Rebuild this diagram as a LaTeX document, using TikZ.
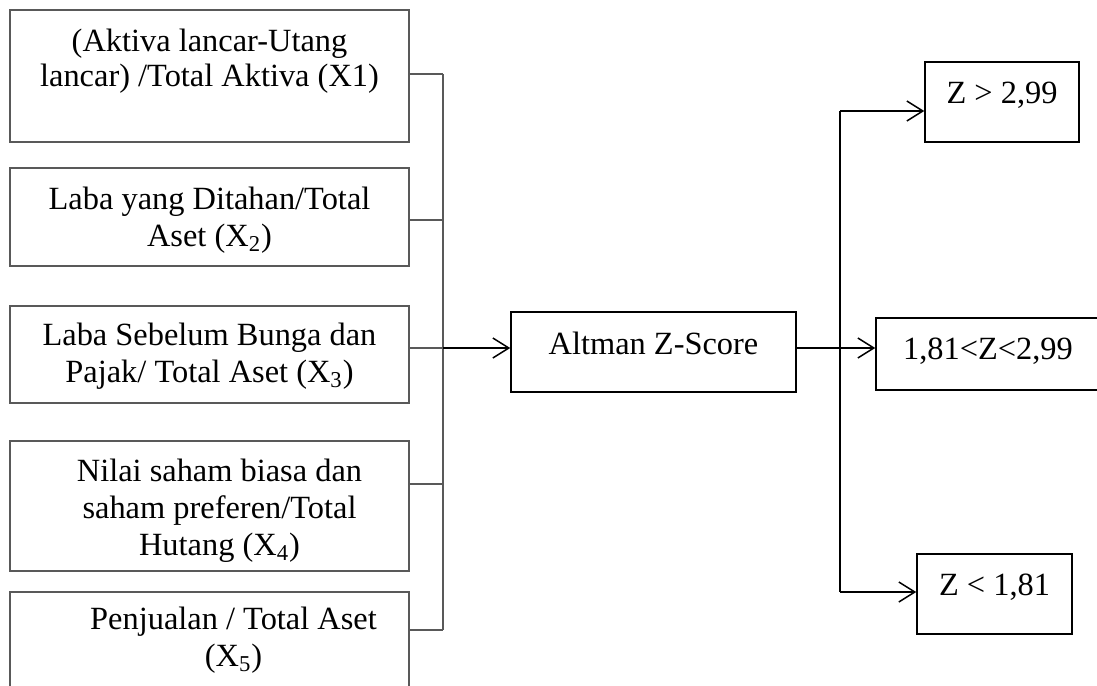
\documentclass[tikz,border=0pt]{standalone}
\usepackage{fontspec}
\setmainfont{Liberation Serif}
\usetikzlibrary{arrows.meta}

\begin{document}
\begin{tikzpicture}[x=0.5pt,y=-0.5pt, every node/.style={font=\fontsize{16.2}{18.5}\selectfont},
  lbox/.style={draw=black!65,line width=0.75pt,minimum width=199.5pt,align=center,inner sep=0pt},
  rbox/.style={draw,line width=0.75pt,align=center,text depth=9pt,inner sep=0pt},
  bus/.style={draw=black!65,line width=0.75pt},
  >={Straight Barb[length=8pt,width=10pt]}]
\useasboundingbox (0,0) rectangle (1097,685);
\clip (0,0) rectangle (1097,685);
% variabel X1..X5
\node[lbox,minimum height=66pt] (x1) at (209.5,76) {\rule{0pt}{17pt}(Aktiva lancar-Utang\\[-1pt] lancar) /Total Aktiva (X1)\\ \strut};
\node[lbox,minimum height=49pt] (x2) at (209.5,217) {\rule{0pt}{14pt}Laba yang Ditahan/Total\\ Aset (X\textsubscript{2})};
\node[lbox,minimum height=48.5pt] (x3) at (209.5,354.5) {\rule{0pt}{13pt}Laba Sebelum Bunga dan\\ Pajak/ Total Aset (X\textsubscript{3})};
\node[lbox,minimum height=65pt] (x4) at (209.5,506) {\rule{0pt}{16pt}\hspace*{10pt}Nilai saham biasa dan\\ \hspace*{10pt}saham preferen/Total\\ \hspace*{10pt}Hutang (X\textsubscript{4})};
\node[lbox,minimum height=48pt] (x5) at (209.5,640) {\hspace*{24pt}Penjualan / Total Aset\\ \hspace*{24pt}(X\textsubscript{5})};
\coordinate (b1) at (443,74);
\coordinate (b2) at (443,220);
\coordinate (b3) at (443,348);
\coordinate (b4) at (443,484);
\coordinate (b5) at (443,630);
\draw[bus] (b1 -| x1.east) -- (b1);
\draw[bus] (b2 -| x2.east) -- (b2);
\draw[bus] (b3 -| x3.east) -- (b3);
\draw[bus] (b4 -| x4.east) -- (b4);
\draw[bus] (b5 -| x5.east) -- (b5);
\draw[bus] (b1) -- (b5);
% altman
\node[rbox,text depth=8.5pt,minimum width=142.5pt,minimum height=40pt] (alt) at (653.5,352) {Altman Z-Score};
\draw[->,line width=0.75pt] (b3) -- (b3 -| alt.west);
% kategori
\node[rbox,minimum width=77pt,minimum height=40pt] (z1) at (1002,102) {Z {\textgreater} 2,99};
\node[rbox,text depth=5.5pt,minimum width=112pt,minimum height=36pt] (z2) at (988,354) {1,81{\textless}Z{\textless}2,99};
\node[rbox,minimum width=77.5pt,minimum height=40pt] (z3) at (994.5,594) {Z {\textless} 1,81};
\coordinate (s1) at (840,111);
\coordinate (s2) at (840,348);
\coordinate (s3) at (840,592);
\draw[line width=0.75pt] (s1) -- (s3);
\draw[->,line width=0.75pt] (s1) -- (s1 -| z1.west);
\draw[->,line width=0.75pt] (s2 -| alt.east) -- (s2 -| z2.west);
\draw[->,line width=0.75pt] (s3) -- (s3 -| z3.west);
\end{tikzpicture}
\end{document}
